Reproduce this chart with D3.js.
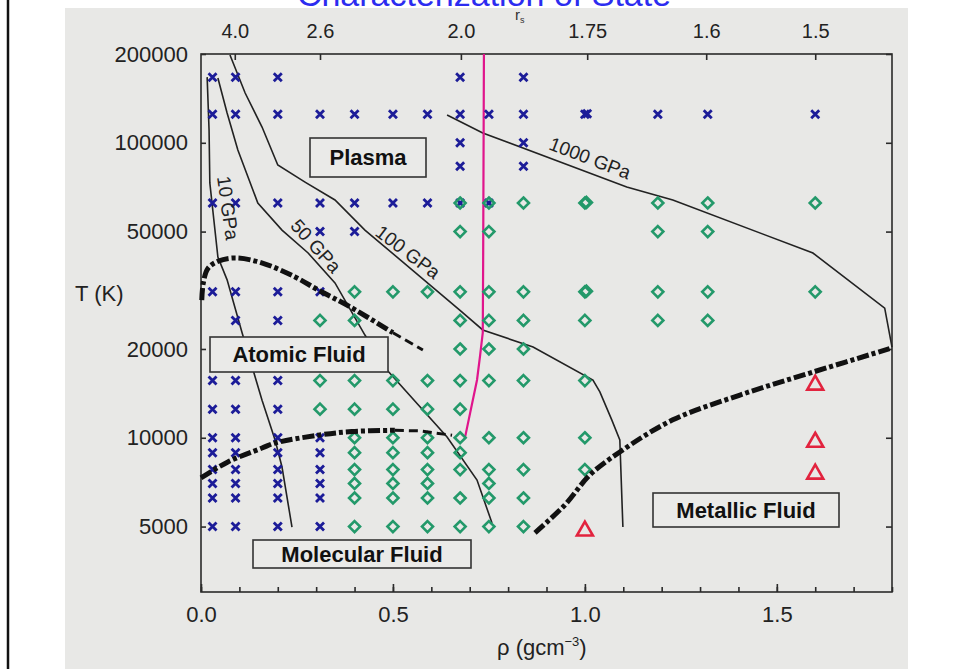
<!DOCTYPE html>
<html>
<head>
<meta charset="utf-8">
<title>Characterization of State</title>
<script src="https://d3js.org/d3.v7.min.js"></script>
<style>
  body { margin: 0; background: #fff; }
  text { font-family: "Liberation Sans", Arial, Helvetica, sans-serif; }
</style>
</head>
<body>
<svg id="chart" width="954" height="669"></svg>
<script>
// ---- data (rho in g/cm^3, T in K) ----
var rsLabels = ["4.0", "2.6", "2.0", "1.75", "1.6", "1.5"];
var rsRho = [0.088, 0.31, 0.677, 1.006, 1.316, 1.6];
var rhoTicks = [0.0, 0.5, 1.0, 1.5];
var tTicks = [5000, 10000, 20000, 50000, 100000, 200000];

var crosses = [
  [0.03,166700],[0.09,166700],[0.2,166700],[0.675,166700],[0.84,166700],
  [0.03,125000],[0.09,125000],[0.2,125000],[0.31,125000],[0.4,125000],[0.5,125000],[0.59,125000],
  [0.675,125000],[0.75,125000],[0.84,125000],[1.0,125000],[1.006,125500],[1.19,125000],[1.32,125000],[1.6,125000],
  [0.675,100000],[0.84,100000],
  [0.675,83300],[0.84,83300],
  [0.03,62500],[0.09,62500],[0.2,62500],[0.31,62500],[0.4,62500],[0.5,62500],[0.59,62500],[0.675,62500],[0.75,62500],
  [0.31,50000],[0.4,50000],
  [0.03,31250],[0.09,31250],[0.2,31250],[0.31,31250],
  [0.09,25000],[0.2,25000],
  [0.03,15625],[0.09,15625],[0.2,15625],
  [0.03,12500],[0.09,12500],[0.2,12500],
  [0.03,10000],[0.09,10000],[0.2,10000],[0.31,10000],
  [0.03,8900],[0.09,8900],[0.2,8900],[0.31,8900],
  [0.03,7800],[0.09,7800],[0.2,7800],[0.31,7800],
  [0.03,7000],[0.09,7000],[0.2,7000],[0.31,7000],
  [0.03,6250],[0.09,6250],[0.2,6250],[0.31,6250],
  [0.03,5000],[0.09,5000],[0.2,5000],[0.31,5000]
];

var diamonds = [
  [0.675,62500],[0.75,62500],[0.84,62500],[1.0,62500],[1.004,62800],[1.19,62500],[1.32,62500],[1.6,62500],
  [0.675,50000],[0.75,50000],[1.19,50000],[1.32,50000],
  [0.4,31250],[0.5,31250],[0.59,31250],[0.675,31250],[0.75,31250],[0.84,31250],[1.0,31250],[1.004,31400],[1.19,31250],[1.32,31250],[1.6,31250],
  [0.31,25000],[0.4,25000],[0.675,25000],[0.75,25000],[0.84,25000],[1.0,25000],[1.19,25000],[1.32,25000],
  [0.675,20000],[0.75,20000],[0.84,20000],
  [0.31,15625],[0.4,15625],[0.5,15625],[0.59,15625],[0.675,15625],[0.75,15625],[0.84,15625],[1.0,15625],
  [0.31,12500],[0.4,12500],[0.5,12500],[0.59,12500],[0.675,12500],
  [0.4,10000],[0.5,10000],[0.59,10000],[0.675,10000],[0.75,10000],[0.84,10000],[1.0,10000],
  [0.4,8900],[0.5,8900],[0.59,8900],[0.675,8900],
  [0.4,7800],[0.5,7800],[0.59,7800],[0.675,7800],[0.75,7800],[0.84,7800],[1.0,7800],
  [0.4,7000],[0.5,7000],[0.59,7000],[0.75,7000],
  [0.4,6250],[0.5,6250],[0.59,6250],[0.675,6250],[0.75,6250],[0.84,6250],
  [0.4,5000],[0.5,5000],[0.59,5000],[0.675,5000],[0.75,5000],[0.84,5000]
];

var triangles = [[1.0,5000],[1.6,15625],[1.6,10000],[1.6,7800]];

// isobars
var gpa10 = [[0.016,167000],[0.021,110500],[0.023,73100],[0.044,41000],[0.068,34300],
  [0.107,22700],[0.159,13400],[0.193,9830],[0.211,7960],[0.237,4980]];
var gpa50 = [[0.044,165800],[0.068,126200],[0.096,94500],[0.148,62500],[0.211,50600],[0.279,42300],
  [0.349,33500],[0.427,22300],[0.484,17000],[0.641,10060],[0.719,7190],[0.758,5140]];
var gpa100 = [[0.0755,198400],[0.115,147500],[0.159,113100],[0.2,84100],[0.271,73600],[0.349,64000],
  [0.427,50600],[0.674,27100],[0.734,23200],[0.865,20300],[1.021,15700],[1.039,14300],
  [1.07,11500],[1.091,9830],[1.099,4980]];
var gpa1000 = [[0.641,124200],[0.734,108000],[1.109,70800],[1.229,64000],[1.594,42300],[1.781,27500],[1.8,20300]];
var magenta = [[0.737,200000],[0.735,40000],[0.734,22700],[0.727,19000],[0.719,15700],[0.6875,9990]];

// phase boundaries
var upperThick = [[0.002,29300],[0.006,33500],[0.018,37500],[0.045,39700],[0.09,40700],[0.16,39100],
  [0.245,35100],[0.305,31700],[0.388,27800],[0.5,22700]];
var upperThin = [[0.5,22700],[0.578,19840]];
var lowerThick = [[0.0,7310],[0.07,8280],[0.159,9230],[0.193,9600],[0.305,10200],[0.393,10500],[0.505,10600]];
var lowerThin = [[0.505,10600],[0.57,10550],[0.654,10200]];
var metallic = [[0.87,4760],[0.948,5920],[1.013,7480],[1.091,8950],[1.229,11500],[1.404,13960],[1.594,16700],[1.8,20160]];

// ---- scales ----
var svg = d3.select("#chart");
var x = d3.scaleLinear().domain([0, 1.8]).range([201, 892]);
var y = d3.scaleLog().domain([3000, 200000]).range([592, 54]);

// background of the scanned slide
svg.append("rect").attr("x", 65).attr("y", 8).attr("width", 843).attr("height", 661).attr("fill", "#e8e8e6");
svg.append("line").attr("x1", 8).attr("x2", 8).attr("y1", 0).attr("y2", 669)
  .attr("stroke", "#111").attr("stroke-width", 2.5);

svg.append("text").attr("x", 484).attr("y", 6).attr("text-anchor", "middle")
  .style("font-size", "34px").attr("fill", "#2c2cf0").text("Characterization of State");

// frame
svg.append("rect").attr("x", x(0)).attr("y", y(200000))
  .attr("width", x(1.8) - x(0)).attr("height", y(3000) - y(200000))
  .attr("fill", "none").attr("stroke", "#2a2a2a").attr("stroke-width", 1.6);

function styleAxis(g, size) {
  g.select(".domain").remove();
  g.selectAll(".tick line").attr("stroke", "#2a2a2a").attr("stroke-width", 1.6);
  g.selectAll(".tick text").attr("fill", "#222").style("font-size", size);
}

// bottom axis: minor then major
svg.append("g").attr("transform", "translate(0," + y(3000) + ")")
  .call(d3.axisBottom(x).tickValues(d3.range(0, 1.81, 0.1)).tickSize(-5).tickFormat(""))
  .call(function(g) { styleAxis(g, "22px"); });
svg.append("g").attr("transform", "translate(0," + y(3000) + ")")
  .call(d3.axisBottom(x).tickValues(rhoTicks).tickSize(-8).tickPadding(14).tickFormat(d3.format(".1f")))
  .call(function(g) { styleAxis(g, "22px"); });

// top axis (r_s)
svg.append("g").attr("transform", "translate(0," + y(200000) + ")")
  .call(d3.axisTop(x).tickValues(rsRho).tickSize(-6).tickPadding(16)
    .tickFormat(function(d, i) { return rsLabels[i]; }))
  .call(function(g) { styleAxis(g, "20px"); });

// left / right axes
svg.append("g").attr("transform", "translate(" + x(0) + ",0)")
  .call(d3.axisLeft(y).tickValues(tTicks).tickSize(-5).tickPadding(13).tickFormat(d3.format("d")))
  .call(function(g) { styleAxis(g, "22px"); });
svg.append("g").attr("transform", "translate(" + x(1.8) + ",0)")
  .call(d3.axisRight(y).tickValues(tTicks).tickSize(-6).tickFormat(""))
  .call(function(g) { styleAxis(g, "22px"); });

// axis titles
svg.append("text").attr("x", 75).attr("y", 301).style("font-size", "22px").attr("fill", "#222").text("T (K)");
var rl = svg.append("text").attr("x", 497).attr("y", 655).style("font-size", "22px").attr("fill", "#222");
rl.append("tspan").text("ρ (gcm");
rl.append("tspan").attr("dy", -9).style("font-size", "13px").text("−3");
rl.append("tspan").attr("dy", 9).text(")");
var rs = svg.append("text").attr("x", 515).attr("y", 20).style("font-size", "15px").attr("fill", "#333");
rs.append("tspan").text("r");
rs.append("tspan").attr("dy", 3).style("font-size", "9px").text("s");

// lines
var line = d3.line().x(function(d) { return x(d[0]); }).y(function(d) { return y(d[1]); });
var smooth = d3.line().x(function(d) { return x(d[0]); }).y(function(d) { return y(d[1]); })
  .curve(d3.curveCatmullRom.alpha(0.5));

[gpa10, gpa50, gpa100, gpa1000].forEach(function(d) {
  svg.append("path").attr("d", line(d)).attr("fill", "none")
    .attr("stroke", "#222").attr("stroke-width", 1.6);
});
svg.append("path").attr("d", line(magenta)).attr("fill", "none")
  .attr("stroke", "#e0158c").attr("stroke-width", 2.2);

// markers
var mk = svg.append("g");
mk.selectAll("path.cross").data(crosses).enter().append("path")
  .attr("class", "cross")
  .attr("transform", function(d) { return "translate(" + x(d[0]) + "," + y(d[1]) + ")"; })
  .attr("d", "M-4,-4L4,4M-4,4L4,-4")
  .attr("stroke", "#1c1c98").attr("stroke-width", 2.8).attr("fill", "none");
mk.selectAll("path.diam").data(diamonds).enter().append("path")
  .attr("class", "diam")
  .attr("transform", function(d) { return "translate(" + x(d[0]) + "," + y(d[1]) + ")"; })
  .attr("d", "M0,-5.5L5.5,0L0,5.5L-5.5,0Z")
  .attr("stroke", "#23996a").attr("stroke-width", 2.6).attr("fill", "none");
mk.selectAll("path.tri").data(triangles).enter().append("path")
  .attr("class", "tri")
  .attr("transform", function(d) { return "translate(" + x(d[0]) + "," + (y(d[1]) + 3) + ")"; })
  .attr("d", "M0,-8L8,6L-8,6Z")
  .attr("stroke", "#e2233e").attr("stroke-width", 2.6).attr("fill", "none");

// phase boundaries
function dashed(d, w, dash, gen) {
  svg.append("path").attr("d", gen(d)).attr("fill", "none")
    .attr("stroke", "#111").attr("stroke-width", w).attr("stroke-dasharray", dash);
}
dashed(upperThick, 5, "12,3,4,3", smooth);
dashed(upperThin, 3, "9,5", line);
dashed(lowerThick, 5, "12,3,4,3", smooth);
dashed(lowerThin, 3, "9,5", line);
dashed(metallic, 5, "12,3,4,3", smooth);

// isobar labels
function rotLabel(txt, cx, cy, ang) {
  svg.append("text").attr("transform", "translate(" + cx + "," + cy + ") rotate(" + ang + ")")
    .attr("text-anchor", "middle").attr("dy", "0.35em")
    .style("font-size", "19px").attr("fill", "#222").text(txt);
}
rotLabel("10 GPa", 228, 208, 82);
rotLabel("50 GPa", 316, 246, 48);
rotLabel("100 GPa", 408, 252, 37);
rotLabel("1000 GPa", 590, 158, 21);

// region boxes
function box(txt, x0, y0, x1, y1) {
  svg.append("rect").attr("x", x0).attr("y", y0).attr("width", x1 - x0).attr("height", y1 - y0)
    .attr("fill", "#eaeae8").attr("stroke", "#333").attr("stroke-width", 1.6);
  svg.append("text").attr("x", (x0 + x1) / 2).attr("y", (y0 + y1) / 2).attr("dy", "0.36em")
    .attr("text-anchor", "middle").style("font-size", "22px").style("font-weight", "bold")
    .attr("fill", "#111").text(txt);
}
box("Plasma", 310, 138, 426, 177);
box("Atomic Fluid", 210, 337, 388, 372);
box("Molecular Fluid", 253, 540, 471, 568);
box("Metallic Fluid", 653, 493, 839, 527);
</script>
</body>
</html>
